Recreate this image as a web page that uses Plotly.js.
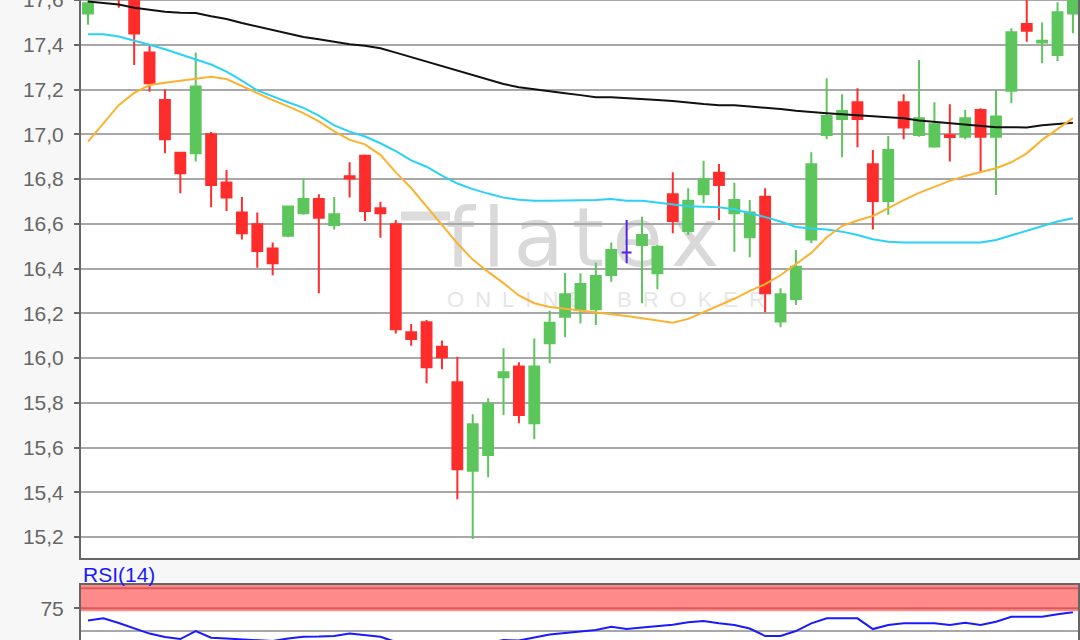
<!DOCTYPE html>
<html><head><meta charset="utf-8">
<script src="https://cdn.plot.ly/plotly-3.0.1.min.js"></script>
<style>
html,body{margin:0;padding:0;background:#f7f7f7;overflow:hidden;width:1080px;height:640px}
#chart{position:absolute;left:0;top:-40px;width:1080px;height:770px}
</style>
</head><body><div id="chart"></div>
<script>
// Daily candles (index 0..64)
const open  = [17.54,17.63,17.70,17.64,17.366,17.153,16.918,16.915,17.0,16.785,16.651,16.598,16.49,16.547,16.647,16.711,16.595,16.812,16.904,16.67,16.598,16.115,16.16,16.051,15.892,15.496,15.567,15.914,15.962,15.709,16.066,16.185,16.218,16.218,16.371,16.472,16.505,16.379,16.732,16.568,16.732,16.828,16.647,16.54,16.721,16.163,16.264,16.53,16.997,17.068,17.143,16.866,16.702,17.143,16.997,16.945,16.996,16.989,17.109,16.989,17.195,17.493,17.41,17.354,17.54];
const high  = [17.62,17.72,17.74,17.66,17.396,17.2,16.918,17.366,17.01,16.84,16.72,16.651,16.517,16.68,16.8,16.732,16.72,16.875,16.91,16.699,16.617,16.152,16.17,16.078,16.006,15.749,15.82,16.044,15.981,16.088,16.212,16.38,16.379,16.426,16.517,16.617,16.632,16.505,16.83,16.759,16.882,16.867,16.784,16.706,16.759,16.312,16.483,16.92,17.25,17.179,17.206,16.93,16.992,17.179,17.332,17.143,17.134,17.109,17.116,17.198,17.474,17.62,17.5,17.59,17.66];
const low   = [17.49,17.61,17.565,17.31,17.19,16.915,16.736,16.878,16.674,16.657,16.53,16.404,16.37,16.54,16.64,16.29,16.575,16.717,16.613,16.538,16.11,16.055,15.887,15.95,15.369,15.192,15.467,15.746,15.709,15.637,15.977,16.093,16.155,16.148,16.341,16.424,16.245,16.307,16.558,16.55,16.692,16.617,16.475,16.45,16.205,16.138,16.237,16.513,16.978,16.897,16.942,16.575,16.64,16.978,16.989,16.94,16.878,16.978,16.833,16.729,17.139,17.414,17.317,17.327,17.451];
const close = [17.585,17.68,17.63,17.45,17.228,16.978,16.826,17.213,16.773,16.718,16.558,16.479,16.424,16.677,16.711,16.627,16.643,16.802,16.657,16.647,16.129,16.085,15.959,16.004,15.503,15.704,15.795,15.937,15.746,15.962,16.158,16.285,16.331,16.367,16.483,16.472,16.55,16.498,16.613,16.703,16.799,16.773,16.706,16.651,16.29,16.285,16.408,16.866,17.082,17.104,17.068,16.702,16.93,17.03,17.072,17.045,16.988,17.072,16.989,17.079,17.456,17.463,17.418,17.545,17.63];

// Moving averages
const maLong  = [17.593,17.585,17.58,17.565,17.556,17.548,17.543,17.542,17.527,17.515,17.497,17.482,17.465,17.452,17.435,17.425,17.415,17.402,17.396,17.384,17.365,17.345,17.322,17.305,17.285,17.262,17.242,17.225,17.21,17.2,17.192,17.183,17.175,17.165,17.165,17.16,17.155,17.153,17.149,17.141,17.135,17.13,17.13,17.124,17.12,17.113,17.105,17.098,17.094,17.09,17.086,17.082,17.078,17.072,17.062,17.056,17.049,17.044,17.035,17.032,17.032,17.03,17.04,17.046,17.052];
const maMid   = [17.447,17.447,17.437,17.42,17.4,17.38,17.357,17.336,17.312,17.28,17.24,17.196,17.168,17.143,17.118,17.083,17.04,17.012,16.99,16.96,16.925,16.883,16.855,16.815,16.78,16.755,16.735,16.717,16.708,16.703,16.703,16.703,16.705,16.706,16.711,16.703,16.703,16.694,16.684,16.678,16.676,16.674,16.665,16.649,16.63,16.61,16.586,16.579,16.574,16.565,16.55,16.531,16.52,16.516,16.516,16.516,16.516,16.516,16.516,16.528,16.548,16.57,16.59,16.61,16.625];
const maShort = [16.967,17.05,17.13,17.185,17.22,17.23,17.24,17.25,17.257,17.247,17.215,17.183,17.153,17.125,17.095,17.058,17.013,16.975,16.955,16.908,16.83,16.76,16.677,16.595,16.513,16.44,16.385,16.335,16.28,16.245,16.228,16.22,16.213,16.206,16.196,16.188,16.178,16.168,16.158,16.175,16.205,16.235,16.265,16.3,16.33,16.37,16.42,16.47,16.54,16.59,16.615,16.635,16.67,16.706,16.738,16.764,16.792,16.814,16.83,16.848,16.875,16.915,16.975,17.025,17.072];

// RSI(14)
const rsi = [61.6,64.0,58.8,53.3,47.2,43.4,41.2,50.0,42.6,41.7,41.0,39.5,39.0,41.7,43.7,43.9,44.5,47.2,45.6,43.7,37.9,33.5,34.6,32.4,26.9,32.4,36.8,40.1,39.5,42.8,46.1,47.8,49.4,51.1,54.7,52.2,53.9,55.2,56.9,59.6,61.0,58.5,56.6,52.8,44.5,44.5,50.0,58.5,64.0,64.0,64.0,52.2,56.6,58.5,58.5,58.5,56.6,59.1,56.6,60.2,65.7,65.7,65.7,68.4,70.6];
const rsiBand = [75, 97];
const rsiTicks = [75];

const GREEN = '#5cc65c', RED = '#ff2c2c', FLAT = '#5522dd';
const idx = open.map((_, i) => i);

function pick(cond) {
  const s = idx.filter(cond);
  return {x: s, open: s.map(i => open[i]), high: s.map(i => high[i]),
          low: s.map(i => low[i]), close: s.map(i => close[i])};
}
function candle(d, color) {
  return Object.assign({
    type: 'candlestick', xaxis: 'x', yaxis: 'y',
    increasing: {line: {color: color, width: 2}, fillcolor: color},
    decreasing: {line: {color: color, width: 2}, fillcolor: color},
    whiskerwidth: 0, hoverinfo: 'skip', showlegend: false
  }, d);
}
function line(y, color) {
  return {type: 'scatter', mode: 'lines', x: idx, y: y, xaxis: 'x', yaxis: 'y',
          line: {color: color, width: 2}, hoverinfo: 'skip', showlegend: false};
}

const traces = [
  candle(pick(i => close[i] > open[i]), GREEN),
  candle(pick(i => close[i] < open[i]), RED),
  candle(pick(i => close[i] === open[i]), FLAT),
  line(maLong, '#111111'),
  line(maMid, '#2ad2f5'),
  line(maShort, '#fbb231'),
  {type: 'scatter', mode: 'lines', x: idx, y: rsi, xaxis: 'x2', yaxis: 'y2',
   line: {color: '#1a1aff', width: 2}, hoverinfo: 'skip', showlegend: false}
];

const FONT = 'Liberation Sans, Arial, sans-serif';
const axisLine = {showline: true, mirror: true, linecolor: '#666', linewidth: 2, zeroline: false};
const xr = [-0.455, 64.33];

const layout = {
  width: 1080, height: 770,
  margin: {l: 81, r: 2, t: 6, b: 51},
  paper_bgcolor: '#f7f7f7', plot_bgcolor: '#ffffff',
  separators: ',.',
  font: {family: FONT, color: '#666'},
  showlegend: false,
  boxgap: 0.36, boxgroupgap: 0,
  xaxis: Object.assign({domain: [0, 1], anchor: 'y', range: xr, showticklabels: false,
    showgrid: false, ticks: '', rangeslider: {visible: false}, fixedrange: true}, axisLine),
  yaxis: Object.assign({domain: [0.17013, 1], anchor: 'x', range: [15.108, 17.752],
    tick0: 15.2, dtick: 0.2, tickformat: '.1f', showgrid: true, gridcolor: '#a8a8a8', gridwidth: 2,
    ticks: 'outside', ticklen: 5, tickwidth: 2, tickcolor: '#666', ticklabelstandoff: 6,
    tickfont: {size: 21, color: '#666', family: FONT}}, axisLine),
  xaxis2: Object.assign({domain: [0, 1], anchor: 'y2', range: xr, showticklabels: false,
    showgrid: false, ticks: '', fixedrange: true}, axisLine),
  yaxis2: Object.assign({domain: [0, 0.13184], anchor: 'x2', range: [-2.8, 100.7],
    tickvals: rsiTicks, showgrid: true, gridcolor: '#a8a8a8', gridwidth: 2,
    ticks: 'outside', ticklen: 5, tickwidth: 2, tickcolor: '#666', ticklabelstandoff: 6,
    tickfont: {size: 21, color: '#666', family: FONT}}, axisLine),
  shapes: [
    // watermark
    {type: 'line', xref: 'paper', yref: 'paper', x0: 0.3210, x1: 0.3701, y0: 0.6494, y1: 0.6494,
     line: {color: '#dcdcdc', width: 9}, layer: 'below'},
    {type: 'rect', xref: 'paper', yref: 'paper', x0: 0.3620, x1: 0.6439, y0: 0.5858, y1: 0.6700,
     line: {width: 0}, fillcolor: 'rgba(0,0,0,0)', layer: 'below',
     label: {text: 'f\u200Al\u200Aa\u200At\u200Ae\u200Ax', textposition: 'middle center',
       font: {size: 82, color: '#d9d9d9', family: 'DejaVu Sans, sans-serif'}}},
    {type: 'rect', xref: 'paper', yref: 'paper', x0: 0.3661, x1: 0.6870, y0: 0.5213, y1: 0.5494,
     line: {width: 0}, fillcolor: 'rgba(0,0,0,0)', layer: 'below',
     label: {text: 'O\u2002N\u2002L\u2002I\u2002N\u2002E\u2002\u2002\u2002B\u2002R\u2002O\u2002K\u2002E\u2002R',
       textposition: 'middle center', font: {size: 22, color: '#e6e6e6', family: FONT}}},
    // RSI overbought band
    {type: 'rect', xref: 'paper', yref: 'y2', x0: 0, x1: 1, y0: 71.7, y1: 100.7,
     line: {width: 0}, fillcolor: '#ff8a8a', layer: 'above'},
    {type: 'line', xref: 'paper', yref: 'y2', x0: 0, x1: 1, y0: rsiBand[0], y1: rsiBand[0],
     line: {color: '#d65c5c', width: 2}, layer: 'above'},
    {type: 'line', xref: 'paper', yref: 'y2', x0: 0, x1: 1, y0: rsiBand[1], y1: rsiBand[1],
     line: {color: '#d65c5c', width: 2}, layer: 'above'},
    {type: 'line', xref: 'paper', yref: 'y2', x0: 0, x1: 1, y0: 50, y1: 50,
     line: {color: '#a8a8a8', width: 2}, layer: 'below'}
  ],
  annotations: [
    {xref: 'paper', yref: 'paper', x: 0, y: 0.1459, xanchor: 'left', yanchor: 'middle',
     text: 'RSI(14)', showarrow: false, font: {size: 21, color: '#1a1aff', family: FONT}}
  ]
};

Plotly.newPlot('chart', traces, layout, {displayModeBar: false, staticPlot: true});
</script></body></html>
